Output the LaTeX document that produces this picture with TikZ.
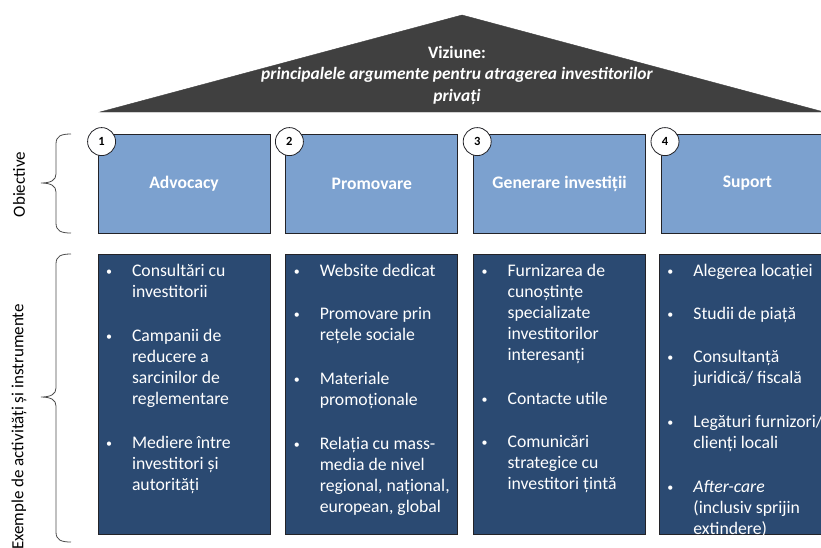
\documentclass[tikz,border=0pt]{standalone}
\usepackage{fontspec}
\setmainfont{Carlito}
\usepackage{tikz}
\usetikzlibrary{positioning,calc}
\definecolor{vzgri}{RGB}{64,64,64}
\definecolor{vzbleu}{RGB}{124,161,207}
\definecolor{vzmarin}{RGB}{43,74,114}
\definecolor{vzcontur}{RGB}{35,35,40}
\newcommand{\punct}[1]{\par\noindent\makebox[26pt][l]{\raisebox{1.5pt}{\fontsize{12}{12}\selectfont\textbullet}}\parbox[t]{130pt}{\strut#1\strut}\par\vspace{22pt}}
\newcommand{\lista}[1]{\begin{minipage}[c][272pt][t]{156pt}\vspace*{3pt}#1\end{minipage}}

\begin{document}
\begin{tikzpicture}[x=1pt,y=-1pt,
  obiectiv/.style={rectangle, fill=vzbleu, draw=vzcontur, line width=0.8pt,
        minimum width=172pt, minimum height=99pt, text=white,
        font=\fontsize{17.6}{20}\selectfont\bfseries},
  numar/.style={circle, fill=white, draw=vzcontur, line width=0.8pt,
        minimum size=28pt, inner sep=0pt, font=\fontsize{12.5}{14}\selectfont\bfseries},
  activ/.style={rectangle, fill=vzmarin, draw=vzcontur, line width=0.8pt,
        inner xsep=8pt, inner ysep=4pt, text=white,
        font=\fontsize{17.7}{21}\selectfont},
  acolada/.style={draw=black!70, line width=0.8pt},
  eticheta/.style={rotate=90, font=\fontsize{17}{20}\selectfont}]
  \useasboundingbox (0,0) rectangle (821,547);
  % acoperisul: viziunea
  \filldraw[vzgri] (100,112) -- (462,15) -- (824,112) -- cycle;
  \node[text=white, align=center, font=\fontsize{17.4}{21.5}\selectfont\bfseries] (viziune) at (457,75)
    {Viziune:\\ \itshape principalele argumente pentru atragerea investitorilor\hspace*{5pt}\\ \itshape privați};
  % obiective
  \node[obiectiv] (obj1) at (184,183.5) {Advocacy};
  \node[obiectiv, right=15pt of obj1] (obj2) {Promovare};
  \node[obiectiv, right=15pt of obj2] (obj3) {Generare investiții};
  \node[obiectiv, right=15pt of obj3] (obj4) {Suport};
  \foreach \i in {1,...,4}
    \node[numar] (nr\i) at ([shift={(4pt,-8pt)}]obj\i.north west) {\i};
  % activitati si instrumente
  \node[activ, below=21pt of obj1] (act1) {\lista{%
    \punct{Consultări cu\\investitorii}
    \punct{Campanii de\\reducere a\\sarcinilor de\\reglementare}
    \punct{Mediere între\\investitori și\\autorități}}};
  \node[activ, below=21pt of obj2] (act2) {\lista{%
    \punct{Website dedicat}
    \punct{Promovare prin\\rețele sociale}
    \punct{Materiale\\promoționale}
    \punct{Relația cu mass-\\media de nivel\\regional, național,\\european, global}}};
  \node[activ, below=21pt of obj3] (act3) {\lista{%
    \punct{Furnizarea de\\cunoștințe\\specializate\\investitorilor\\interesanți}
    \punct{Contacte utile}
    \punct{Comunicări\\strategice cu\\investitori țintă}}};
  \node[activ, below=21pt of obj4, xshift=-2pt] (act4) {\lista{%
    \punct{Alegerea locației}
    \punct{Studii de piață}
    \punct{Consultanță\\juridică/ fiscală}
    \punct{Legături furnizori/\\clienți locali}
    \punct{\textit{After-care}\\(inclusiv sprijin\\extindere)}}};
  % acolade si etichete
  \draw[acolada] (71,134) .. controls (61,134) and (56,136) .. (56,144) -- (56,174)
    .. controls (56,180) and (51,183) .. (41,183) .. controls (51,183) and (56,186) .. (56,192)
    -- (56,223) .. controls (56,231) and (61,233) .. (71,233);
  \draw[acolada] (71,254) .. controls (61,254) and (56,256) .. (56,264) -- (56,388)
    .. controls (56,394) and (51,397) .. (41,397) .. controls (51,397) and (56,400) .. (56,406)
    -- (56,532) .. controls (56,540) and (61,542) .. (71,542);
  \node[eticheta] (obiective) at (19,184.5) {Obiective};
  \node[eticheta] (exemple) at (19,427) {Exemple de activități și instrumente};
\end{tikzpicture}
\end{document}
